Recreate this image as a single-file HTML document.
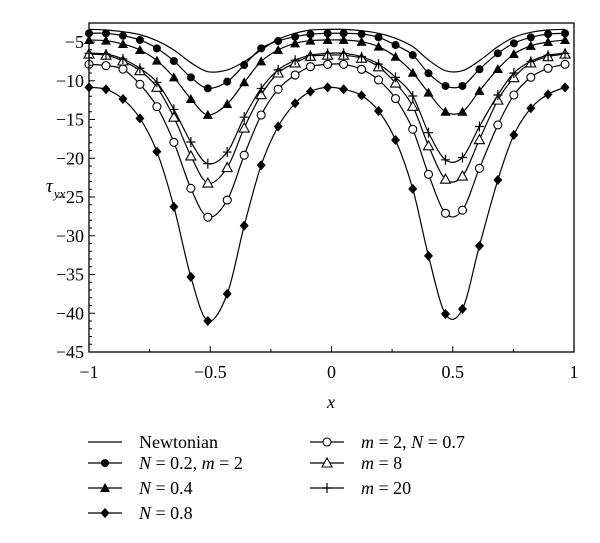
<!DOCTYPE html>
<html><head><meta charset="utf-8"><style>
body{margin:0;background:#fff;}
svg{display:block;font-family:"Liberation Serif",serif;}
</style></head><body>
<svg id="chart" width="600" height="543" viewBox="0 0 600 543">
<rect x="0" y="0" width="600" height="543" fill="#fff"/>
<g id="plot"></g>
<rect x="89" y="23" width="485" height="329" fill="none" stroke="#000" stroke-width="1.3"/>
<g id="axes"></g>
<text x="331" y="408" font-size="18" font-style="italic" text-anchor="middle">x</text>
<text x="46" y="192" font-size="19" font-style="italic">τ<tspan font-size="13" dx="1" dy="6">yx</tspan></text>
<g id="legend"></g>
</svg>
<script>
const xs = [-1,-0.93,-0.86,-0.79,-0.72,-0.65,-0.58,-0.51,-0.43,-0.36,-0.29,-0.22,-0.15,-0.087,-0.016,0.05,0.124,0.194,0.264,0.335,0.40,0.47,0.54,0.61,0.686,0.752,0.822,0.893,0.963];
const newtonian = [-3.37,-3.45,-3.67,-4.05,-4.83,-6.03,-7.67,-8.83,-8.6,-7.54,-6.03,-4.65,-3.88,-3.45,-3.37,-3.37,-3.54,-3.88,-4.53,-5.6,-7.32,-8.7,-8.7,-7.41,-5.6,-4.4,-3.75,-3.45,-3.37];
const n02 = [-3.88,-3.88,-4.18,-4.74,-5.82,-7.45,-9.56,-10.98,-10.12,-7.97,-5.82,-4.87,-4.31,-4.0,-3.88,-3.88,-3.97,-4.4,-5.39,-6.68,-9.04,-10.67,-10.67,-8.52,-6.46,-5.17,-4.4,-3.97,-3.88];
const n04 = [-4.74,-4.83,-5.26,-6.03,-7.4,-9.56,-12.35,-14.4,-13.0,-10.2,-7.5,-6.03,-5.17,-4.83,-4.74,-4.74,-4.96,-5.6,-6.9,-8.96,-11.54,-14.0,-14.0,-11.3,-8.48,-6.55,-5.5,-5.0,-4.74];
const n08 = [-10.85,-11.1,-12.36,-14.85,-19.15,-26.25,-35.3,-41.0,-37.5,-28.7,-20.9,-15.9,-12.9,-11.4,-10.85,-11.1,-11.9,-13.9,-17.65,-23.95,-32.6,-40.1,-39.45,-31.3,-22.8,-17.0,-13.55,-11.75,-10.85];
const m2 = [-7.88,-8.05,-8.5,-10.46,-13.34,-17.94,-23.88,-27.6,-25.4,-19.6,-14.42,-11.1,-9.26,-8.18,-7.88,-7.88,-8.53,-9.9,-12.3,-16.27,-22.07,-27.1,-26.7,-21.3,-15.7,-11.84,-9.56,-8.4,-7.88];
const m8 = [-6.55,-6.7,-7.45,-8.7,-10.85,-14.7,-19.7,-23.2,-21.2,-16.1,-11.8,-9.0,-7.7,-6.85,-6.7,-6.7,-7.1,-8.2,-10.3,-13.3,-18.4,-22.7,-22.3,-17.6,-12.5,-9.6,-7.7,-6.9,-6.55];
const m20 = [-6.46,-6.55,-7.2,-8.4,-10.2,-13.7,-17.9,-20.7,-19.2,-14.7,-11.0,-8.6,-7.35,-6.7,-6.46,-6.46,-6.9,-7.85,-9.56,-11.97,-16.7,-20.2,-19.9,-15.9,-11.84,-9.0,-7.5,-6.7,-6.46];
const xTicks = [-1,-0.5,0,0.5,1];
const xTickLabels = ["\u22121","\u22120.5","0","0.5","1"];
const yTicks = [-5,-10,-15,-20,-25,-30,-35,-40,-45];
const yTickLabels = ["\u22125","\u221210","\u221215","\u221220","\u221225","\u221230","\u221235","\u221240","\u221245"];

const NS="http://www.w3.org/2000/svg";
const X0=89,X1=574,Y0=352,Y1=42;
const sx=v=>X0+(v+1)/2*(X1-X0);
const sy=v=>Y1+(-5-v)/40*(Y0-Y1);
function mk(t,a,p){const e=document.createElementNS(NS,t);for(const k in a)e.setAttribute(k,a[k]);p.appendChild(e);return e;}
const plot=document.getElementById('plot'),axes=document.getElementById('axes'),legend=document.getElementById('legend');

function smoothPath(px,py){
  let d=`M${px[0]},${py[0]}`;
  for(let i=0;i<px.length-1;i++){
    const i0=Math.max(0,i-1),i3=Math.min(px.length-1,i+2);
    const c1x=px[i]+(px[i+1]-px[i0])/6,c1y=py[i]+(py[i+1]-py[i0])/6;
    const c2x=px[i+1]-(px[i3]-px[i])/6,c2y=py[i+1]-(py[i3]-py[i])/6;
    d+=` C${c1x},${c1y} ${c2x},${c2y} ${px[i+1]},${py[i+1]}`;
  }
  return d;
}
function marker(type,x,y,p){
  let e;
  if(type==='dot'){e=mk('circle',{cx:x,cy:y,r:4,fill:'#000'},p);}
  else if(type==='ring'){e=mk('circle',{cx:x,cy:y,r:4,fill:'#fff',stroke:'#000','stroke-width':1.1},p);}
  else if(type==='tri'){e=mk('polygon',{points:`${x},${y-5} ${x-5},${y+4} ${x+5},${y+4}`,fill:'#000'},p);}
  else if(type==='otri'){e=mk('polygon',{points:`${x},${y-5} ${x-5},${y+4} ${x+5},${y+4}`,fill:'#fff',stroke:'#000','stroke-width':1.1},p);}
  else if(type==='dia'){e=mk('polygon',{points:`${x},${y-5} ${x+4.5},${y} ${x},${y+5} ${x-4.5},${y}`,fill:'#000'},p);}
  else if(type==='plus'){e=mk('path',{d:`M${x-4.5},${y}H${x+4.5}M${x},${y-5}V${y+5}`,stroke:'#000','stroke-width':1.2,fill:'none'},p);}
  return e;
}
const series=[
  {name:'newtonian',vals:newtonian,m:null,label:'Newtonian'},
  {name:'n-0-2',vals:n02,m:'dot',label:'<tspan font-style="italic">N</tspan> = 0.2, <tspan font-style="italic">m</tspan> = 2'},
  {name:'n-0-4',vals:n04,m:'tri',label:'<tspan font-style="italic">N</tspan> = 0.4'},
  {name:'n-0-8',vals:n08,m:'dia',label:'<tspan font-style="italic">N</tspan> = 0.8'},
  {name:'m-2',vals:m2,m:'ring',label:'<tspan font-style="italic">m</tspan> = 2, <tspan font-style="italic">N</tspan> = 0.7'},
  {name:'m-8',vals:m8,m:'otri',label:'<tspan font-style="italic">m</tspan> = 8'},
  {name:'m-20',vals:m20,m:'plus',label:'<tspan font-style="italic">m</tspan> = 20'}
];
series.forEach(s=>{
  const g=mk('g',{},plot);
  
  
  const px=xs.map(sx),py=s.vals.map(sy);
  const path=mk('path',{d:smoothPath(px,py),fill:'none',stroke:'#000','stroke-width':1.2},g);
  
  
  if(s.m){xs.forEach((x,i)=>{const e=marker(s.m,px[i],py[i],g);
    
    });}
});
xTicks.forEach((v,i)=>{
  const t=mk('line',{x1:sx(v),x2:sx(v),y1:Y0,y2:Y0-6,stroke:'#000','stroke-width':1},axes);
  
  
  const l=mk('text',{x:sx(v),y:378,'font-size':18,'text-anchor':'middle'},axes);
  l.textContent=xTickLabels[i];
  
  
  if(i<xTicks.length-1){const mv=(v+xTicks[i+1])/2;
    const m=mk('line',{x1:sx(mv),x2:sx(mv),y1:Y0,y2:Y0-3,stroke:'#000','stroke-width':1},axes);
    
    }
});
yTicks.forEach((v,i)=>{
  const t=mk('line',{x1:X0,x2:X0+6,y1:sy(v),y2:sy(v),stroke:'#000','stroke-width':1},axes);
  
  
  const l=mk('text',{x:84,y:sy(v)+6,'font-size':18,'text-anchor':'end'},axes);
  l.textContent=yTickLabels[i];
  
  
  for(let k=1;k<5;k++){const mv=v-k;if(mv<-45)break;
    const m=mk('line',{x1:X0,x2:X0+3,y1:sy(mv),y2:sy(mv),stroke:'#000','stroke-width':1},axes);
    
    }
});
const pos=[[88,442],[88,463],[88,488],[88,513],[310,442],[310,463],[310,488]];
series.forEach((s,i)=>{
  const [lx,ly]=pos[i];
  const g=mk('g',{},legend);
  
  
  mk('line',{x1:lx,x2:lx+34,y1:ly,y2:ly,stroke:'#000','stroke-width':1.2},g);
  if(s.m)marker(s.m,lx+17,ly,g);
  const t=mk('text',{x:lx+51,y:ly+6,'font-size':18},g);
  t.innerHTML=s.label;
});
</script>
</body></html>
